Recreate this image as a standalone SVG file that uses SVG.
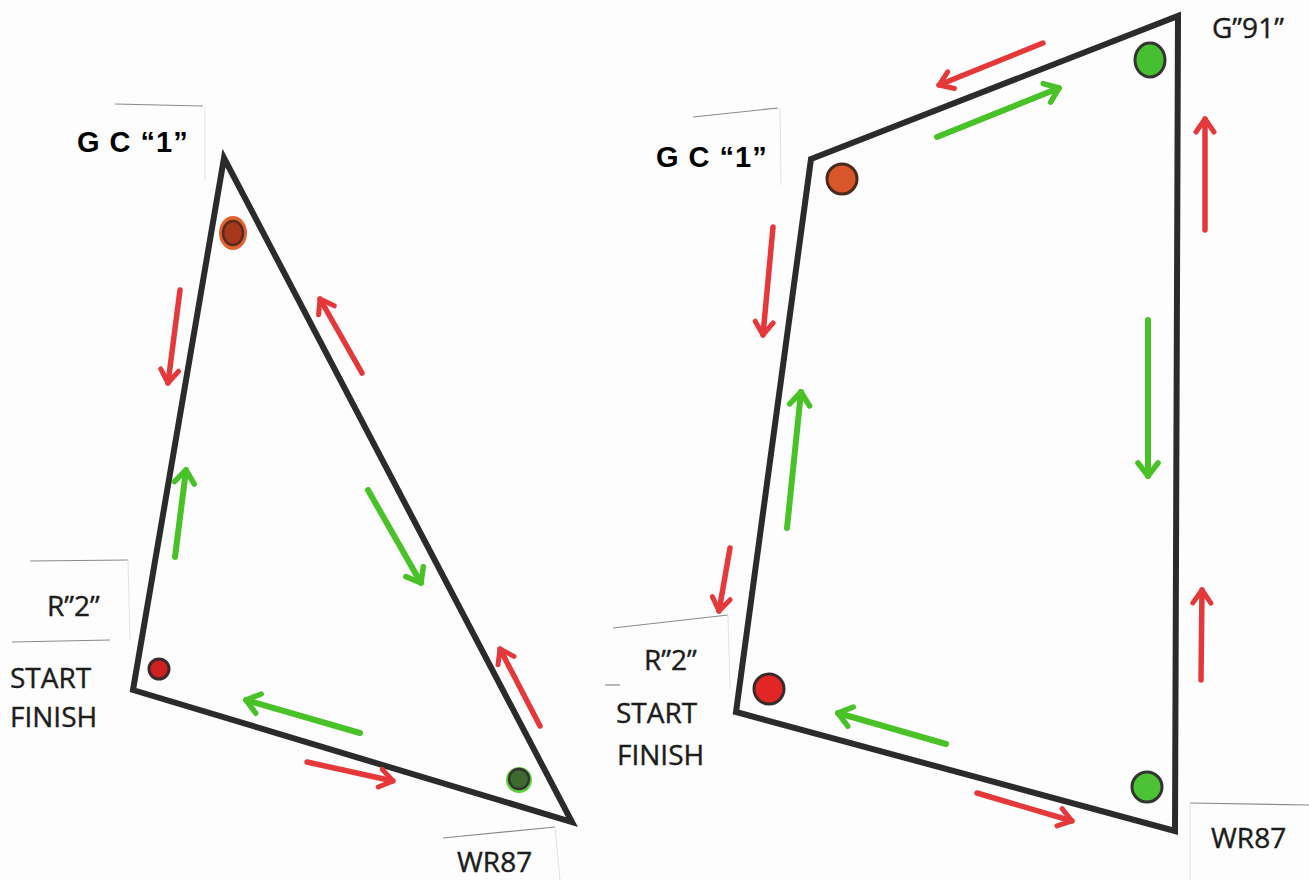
<svg xmlns="http://www.w3.org/2000/svg" width="1309" height="880" viewBox="0 0 1309 880">
<defs>
<style>
.course{fill:none;stroke:#2b2b2b;stroke-width:6;stroke-linejoin:miter;stroke-linecap:round}
.red{fill:none;stroke:#e4383a;stroke-width:5.5;stroke-linecap:round;marker-end:url(#hr)}
.green{fill:none;stroke:#48c227;stroke-width:6;stroke-linecap:round;marker-end:url(#hg)}
.edge{fill:none;stroke:#8a8a8a;stroke-width:1.2}
.edge2{fill:none;stroke:#e2e2e2;stroke-width:1}
.bold{font-family:"Liberation Sans",Arial,sans-serif;font-weight:bold;font-size:29px;letter-spacing:1px;fill:#000}
.lbl{font-family:"Open Sans","Liberation Sans",sans-serif;font-size:28px;fill:#1c1c1c;stroke:#1c1c1c;stroke-width:0.4}
</style>
<marker id="hr" markerUnits="userSpaceOnUse" viewBox="0 0 30 30" markerWidth="30" markerHeight="30" refX="22" refY="15" orient="auto">
<path d="M9,6 L22,15 L9,24" fill="none" stroke="#e4383a" stroke-width="5" stroke-linecap="round" stroke-linejoin="round"/>
</marker>
<marker id="hg" markerUnits="userSpaceOnUse" viewBox="0 0 30 30" markerWidth="30" markerHeight="30" refX="22" refY="15" orient="auto">
<path d="M9,5 L22,15 L9,25" fill="none" stroke="#48c227" stroke-width="5.5" stroke-linecap="round" stroke-linejoin="round"/>
</marker>
</defs>
<rect width="1309" height="880" fill="#fdfdfd"/>

<g id="label-edges">
<path class="edge" d="M115,104 L203,106"/>
<path class="edge2" d="M205,106 L205,180"/>
<path class="edge" d="M30,561 L128,560"/>
<path class="edge2" d="M128,560 L130,640"/>
<path class="edge" d="M12,642 L110,640"/>
<path class="edge" d="M443,838 L555,827"/>
<path class="edge2" d="M555,827 L560,880"/>
<path class="edge" d="M693,117 L778,108"/>
<path class="edge2" d="M780,108 L781,185"/>
<path class="edge" d="M613,628 L728,615"/>
<path class="edge2" d="M728,615 L730,690"/>
<path class="edge" d="M605,685 L620,685"/>
<path class="edge" d="M1190,803 L1309,805"/>
<path class="edge2" d="M1190,803 L1190,880"/>
</g>

<g id="course-triangle">
<path class="course" d="M224,158 L133,690 L572,822 Z"/>
</g>
<g id="course-quad">
<path class="course" d="M811,159 L1178,16 L1175,831 L736,712 Z"/>
</g>

<g id="mark-gc1-left">
<ellipse cx="233" cy="233" rx="14" ry="17" fill="#e0622f"/>
<ellipse cx="233" cy="233" rx="10" ry="12" fill="#a8381c" stroke="#5a2a1a" stroke-width="2.5"/>
</g>
<g id="mark-r2-left">
<circle cx="159" cy="669" r="10" fill="#cf2020" stroke="#3a2a2a" stroke-width="3"/>
</g>
<g id="mark-wr87-left">
<circle cx="519" cy="780" r="13" fill="#5fd03a"/>
<circle cx="519" cy="779" r="10" fill="#3f6a2f" stroke="#333" stroke-width="2.5"/>
</g>

<g id="mark-gc1-right">
<circle cx="842" cy="179" r="15" fill="#d9562a" stroke="#4a2a1e" stroke-width="3"/>
</g>
<g id="mark-g91">
<ellipse cx="1150" cy="60" rx="15" ry="17" fill="#46c030" stroke="#333" stroke-width="3"/>
</g>
<g id="mark-r2-right">
<circle cx="769" cy="689" r="15" fill="#e22525" stroke="#3a2a2a" stroke-width="3"/>
</g>
<g id="mark-wr87-right">
<circle cx="1147" cy="787" r="15" fill="#4cc235" stroke="#333" stroke-width="3"/>
</g>

<g id="connectors">
<path class="red" d="M180,290 L168,383"/>
<path class="red" d="M362,373 L320,299"/>
<path class="green" d="M175,557 L186,470"/>
<path class="green" d="M368,490 L421,583"/>
<path class="green" d="M360,733 L246,700"/>
<path class="red" d="M307,762 L393,781"/>
<path class="red" d="M540,726 L500,649"/>

<path class="red" d="M1043,43 L939,85"/>
<path class="green" d="M937,137 L1059,88"/>
<path class="red" d="M1205,230 L1205,119"/>
<path class="green" d="M1148,320 L1148,476"/>
<path class="red" d="M773,227 L763,335"/>
<path class="green" d="M787,528 L801,392"/>
<path class="red" d="M730,548 L719,611"/>
<path class="red" d="M1201,680 L1202,590"/>
<path class="green" d="M946,744 L838,713"/>
<path class="red" d="M977,793 L1072,821"/>
</g>

<g id="label-gc1-left"><text class="bold" x="77" y="152">G C “1”</text></g>
<g id="label-r2-left"><text class="lbl" x="47" y="616">R”2”</text></g>
<g id="label-startfinish-left"><text class="lbl" x="10" y="688">START</text><text class="lbl" x="10" y="727">FINISH</text></g>
<g id="label-wr87-left"><text class="lbl" x="457" y="872">WR87</text></g>

<g id="label-gc1-right"><text class="bold" x="656" y="167">G C “1”</text></g>
<g id="label-g91"><text class="lbl" x="1212" y="38">G”91”</text></g>
<g id="label-r2-right"><text class="lbl" x="644" y="670">R”2”</text></g>
<g id="label-startfinish-right"><text class="lbl" x="616" y="723">START</text><text class="lbl" x="617" y="765">FINISH</text></g>
<g id="label-wr87-right"><text class="lbl" x="1211" y="848">WR87</text></g>
</svg>
